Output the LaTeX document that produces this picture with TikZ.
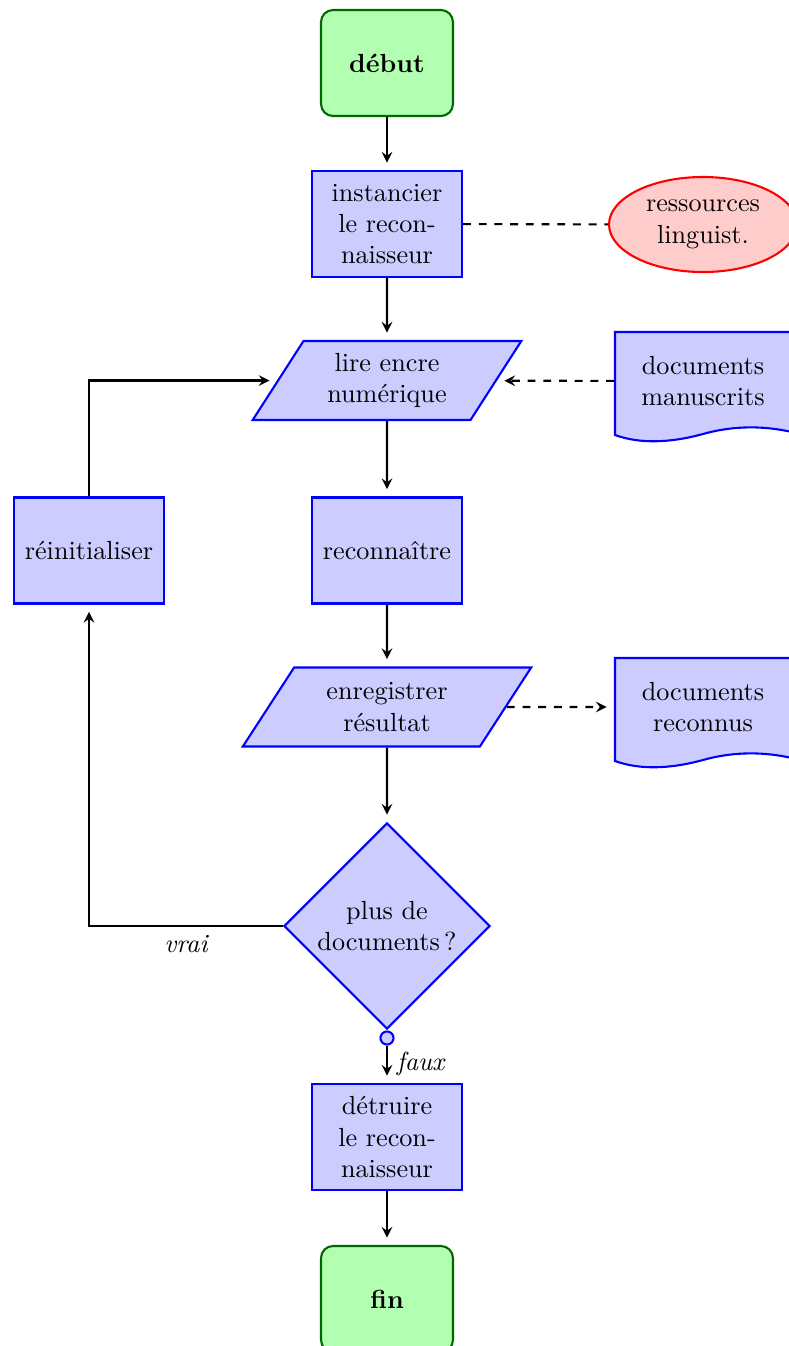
\documentclass[tikz,border=0pt]{standalone}
\usepackage{fontspec}
\usetikzlibrary{shapes.geometric,arrows}
\begin{document}
\begin{tikzpicture}[x=0.382pt,y=-0.382pt,>=stealth,
  term/.style={rectangle, rounded corners=4.6pt, draw=green!40!black, fill=green!30, thick, minimum width=50.4pt, minimum height=40.5pt, font=\bfseries, align=center},
  proc/.style={rectangle, draw=blue, fill=blue!20, thick, minimum width=57.3pt, minimum height=40.5pt, align=center},
  io/.style={trapezium, trapezium left angle=60, trapezium right angle=120, trapezium stretches=true, draw=blue, fill=blue!20, thick, minimum height=30.2pt, align=center},
  dec/.style={diamond, aspect=1, draw=blue, fill=blue!20, thick, minimum width=78.7pt, minimum height=78.7pt, inner sep=1pt, align=center},
  res/.style={ellipse, draw=red, fill=red!20, thick, minimum width=71.8pt, minimum height=36.3pt, inner sep=0pt, align=center},
  docnode/.style={rectangle, minimum width=67.6pt, minimum height=37.4pt, align=center},
  docshape/.style={draw=blue, fill=blue!20, thick},
  conn/.style={circle, draw=blue, fill=blue!20, thick, minimum size=5pt, inner sep=0pt},
  flow/.style={->, thick, shorten >=2.8pt},
  link/.style={thick, dashed},
  lbl/.style={font=\itshape}]
\useasboundingbox (0,0) rectangle (789,1346);

\node[term] (debut) at (387,63) {début};
\node[proc] (inst) at (387,224) {instancier\\le recon-\\naisseur};
\node[res] (res) at (703,224.5) {ressources\\linguist.};
\node[io, minimum width=103.5pt] (lire) at (387,380.5) {lire encre\\numérique};
\draw[docshape] (615,435) .. controls (640,444) and (670,443) .. (703,434) .. controls (735,425) and (765,426) .. (792,432) -- (792,332) -- (615,332) -- cycle;
\node[docnode] (manus) at (703,381) {documents\\manuscrits};
\node[proc] (reinit) at (89,550.5) {réinitialiser};
\node[proc] (recon) at (387,550.5) {reconnaître};
\node[io, minimum width=110.8pt] (enreg) at (387,707) {enregistrer\\résultat};
\draw[docshape] (615,761) .. controls (640,770) and (670,769) .. (703,760) .. controls (735,751) and (765,752) .. (792,758) -- (792,658) -- (615,658) -- cycle;
\node[docnode] (reconnus) at (703,707) {documents\\reconnus};
\node[dec] (dec) at (387,926) {plus de\\documents\,?};
\node[conn] (circ) at (387,1038) {};
\node[proc] (detr) at (387,1137) {détruire\\le recon-\\naisseur};
\node[term] (fin) at (387,1299) {fin};

\draw[flow] (debut) -- (inst);
\draw[link] (inst) -- (res);
\draw[flow] (inst) -- (lire);
\draw[flow, dashed] (manus) -- (lire);
\draw[flow] (lire) -- (recon);
\draw[flow] (reinit) |- (lire);
\draw[flow] (recon) -- (enreg);
\draw[flow, dashed] (enreg) -- (reconnus);
\draw[flow] (enreg) -- (dec);
\draw[flow] (dec) -| node[lbl, pos=0.25, below] {vrai} (reinit);
\draw[flow] (circ) -- node[lbl, right] {faux} (detr);
\draw[flow] (detr) -- (fin);
\end{tikzpicture}
\end{document}
